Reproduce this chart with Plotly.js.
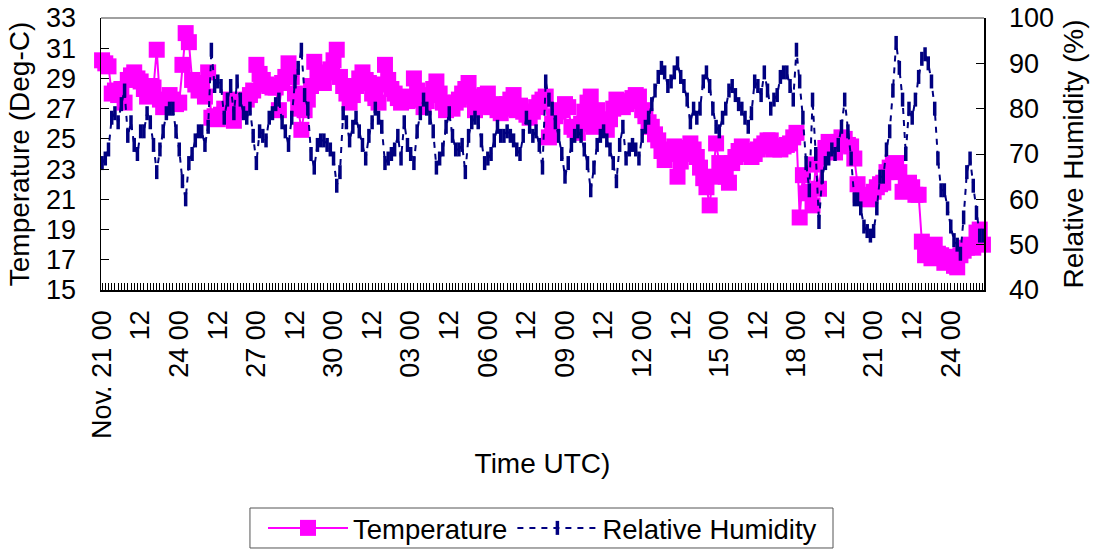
<!DOCTYPE html>
<html><head><meta charset="utf-8">
<script src="https://cdn.plot.ly/plotly-3.0.1.min.js"></script>
<style>html,body{margin:0;padding:0;background:#fff}#chart{width:1097px;height:551px}</style>
</head><body><div id="chart"></div>
<script>
// 3-hourly observations starting Nov. 21 00 UTC
const START_UTC = Date.UTC(2004, 10, 21, 0);
const STEP_HOURS = 3;

const temperature = [
 30.2, 30.0, 29.8, 28.0, 28.2, 27.9, 28.3, 27.4, 28.9, 29.2,
 29.4, 29.0, 28.8, 28.3, 27.8, 28.5, 28.4, 30.9, 27.6, 27.1,
 27.5, 27.9, 27.6, 27.3, 27.4, 29.9, 32.0, 31.4, 28.9, 28.6,
 28.2, 28.7, 27.8, 29.4, 26.4, 26.5, 26.3, 26.6, 27.0, 26.9,
 27.6, 26.2, 27.2, 26.9, 27.3, 27.6, 27.9, 28.2, 29.9, 29.3,
 28.9, 28.6, 28.5, 28.4, 28.4, 26.9, 28.7, 29.1, 30.0, 29.1,
 28.0, 27.0, 25.6, 26.9, 27.6, 28.5, 30.1, 29.1, 28.9, 28.7,
 29.4, 29.6, 30.2, 30.9, 29.1, 28.5, 28.0, 27.4, 27.9, 28.5,
 29.0, 29.4, 28.9, 28.7, 28.0, 27.7, 27.4, 28.6, 29.9, 28.9,
 28.3, 28.0, 27.7, 27.4, 27.8, 27.5, 27.6, 29.0, 28.2, 27.6,
 27.1, 27.5, 27.9, 28.3, 28.8, 28.0, 27.4, 26.9, 27.2, 27.0,
 27.4, 27.6, 28.0, 28.3, 28.7, 27.8, 26.9, 27.2, 27.6, 27.9,
 28.0, 27.1, 27.3, 26.9, 26.7, 27.0, 27.3, 27.6, 27.9, 26.9,
 27.2, 26.8, 26.6, 26.4, 26.8, 27.1, 27.4, 27.6, 27.8, 25.1,
 26.0, 26.5, 26.8, 26.9, 27.3, 27.1, 25.8, 25.6, 25.4, 26.0,
 26.8, 27.4, 27.8, 25.8, 26.9, 26.2, 25.9, 25.6, 26.3, 27.0,
 27.6, 27.3, 27.1, 27.3, 27.5, 27.7, 27.9, 27.8, 26.9, 26.5,
 26.1, 25.8, 25.3, 24.9, 24.2, 23.6, 24.0, 24.3, 24.5, 22.5,
 23.5, 24.0, 24.4, 24.7, 24.3, 23.8, 23.1, 22.4, 21.8, 20.6,
 22.5, 24.7, 23.4, 23.0, 22.5, 22.1, 23.4, 23.8, 24.2, 24.5,
 24.2, 24.0, 23.8, 24.0, 24.3, 24.5, 24.7, 24.9, 24.9, 24.3,
 24.5, 24.3, 24.5, 24.6, 24.7, 25.1, 25.4, 19.8, 22.6, 21.4,
 21.5, 20.6, 23.3, 21.7, 23.8, 24.4, 24.8, 24.5, 24.1, 24.8,
 25.1, 25.0, 24.6, 24.5, 23.7, 22.0, 21.3, 21.2, 21.0, 21.2,
 21.5, 21.8, 22.0, 22.1, 22.8, 23.1, 23.3, 23.4, 22.8, 21.5,
 21.9, 22.1, 21.8, 21.3, 21.3, 18.2, 17.3, 17.6, 17.1, 18.0,
 17.4, 17.3, 16.8, 16.9, 17.2, 16.6, 16.5, 17.3, 17.6, 17.8,
 18.0, 17.8, 18.8, 19.0, 18.0
];

const humidity = [
 68, 69, 71, 78, 79, 77, 81, 84, 74, 77,
 72, 70, 75, 75, 79, 77, 72, 66, 71, 75,
 79, 80, 80, 75, 71, 64, 60, 68, 70, 73,
 75, 75, 72, 76, 93, 85, 86, 85, 78, 82,
 85, 79, 86, 82, 79, 78, 80, 74, 68, 75,
 74, 73, 78, 79, 81, 82, 77, 75, 72, 78,
 86, 89, 93, 83, 80, 70, 67, 72, 73, 73,
 72, 71, 69, 63, 66, 79, 77, 73, 76, 78,
 75, 72, 69, 74, 77, 80, 78, 76, 68, 69,
 70, 71, 74, 69, 77, 72, 70, 68, 75, 79,
 82, 80, 78, 75, 67, 69, 71, 76, 79, 74,
 71, 71, 72, 66, 74, 77, 78, 77, 73, 68,
 69, 70, 73, 76, 74, 74, 75, 74, 73, 71,
 70, 74, 78, 76, 74, 75, 72, 67, 86, 82,
 80, 77, 74, 70, 65, 68, 72, 74, 75, 74,
 71, 68, 62, 67, 72, 74, 75, 73, 71, 68,
 64, 72, 76, 69, 71, 72, 71, 69, 74, 76,
 78, 81, 84, 87, 89, 88, 85, 86, 88, 90,
 87, 85, 82, 77, 80, 78, 80, 86, 88, 85,
 80, 76, 75, 78, 80, 84, 85, 83, 81, 80,
 78, 76, 79, 86, 85, 83, 88, 84, 80, 82,
 83, 87, 88, 88, 85, 82, 93, 86, 78, 68,
 62, 82, 70, 55, 65, 68, 69, 71, 70, 72,
 76, 82, 75, 69, 60, 60, 58, 54, 53, 52,
 53, 58, 65, 65, 71, 75, 84, 94.5, 89, 82,
 70, 80, 78, 82, 87, 91, 92, 90, 86, 80,
 69, 62, 62, 58, 54, 51, 50, 48, 56, 66,
 69, 63, 57, 52, 52
];

// x-axis labels every 36 hours
const tickHours = [0, 36, 72, 108, 144, 180, 216, 252, 288, 324, 360, 396, 432, 468, 504, 540, 576, 612, 648, 684, 720, 756, 792];
const tickLabels = ['Nov. 21 00', '12', '24 00', '12', '27 00', '12', '30 00', '12', '03 00', '12', '06 00', '12',
                    '09 00', '12', '12 00', '12', '15 00', '12', '18 00', '12', '21 00', '12', '24 00'];

function hourToDate(h) {
  const d = new Date(START_UTC + h * 3600000);
  return d.toISOString().slice(0, 19).replace('T', ' ');
}
const times = temperature.map((_, i) => hourToDate(i * STEP_HOURS));

const FONT = 'Liberation Sans, Arial, sans-serif';

const traces = [
  {
    x: times, y: temperature, name: 'Temperature', type: 'scatter', mode: 'lines+markers',
    line: {color: '#FF00FF', width: 2},
    marker: {symbol: 'square', size: 16, color: '#FF00FF'},
    cliponaxis: false, yaxis: 'y'
  },
  {
    x: times, y: humidity, name: 'Relative Humidity', type: 'scatter', mode: 'lines+markers',
    line: {color: '#000080', width: 2, dash: '6px,6px'},
    marker: {symbol: 'line-ns', size: 10, color: '#000080', line: {color: '#000080', width: 3.5}},
    cliponaxis: false, yaxis: 'y2'
  }
];

const layout = {
  width: 1097, height: 551,
  margin: {l: 101, r: 113, t: 18, b: 261, autoexpand: false},
  paper_bgcolor: '#fff', plot_bgcolor: '#fff',
  font: {family: FONT, size: 27, color: '#000'},
  showlegend: true,
  legend: {
    orientation: 'h', x: 0.5, xanchor: 'center', y: -0.875, yanchor: 'middle',
    borderwidth: 0, font: {size: 27.5}, itemwidth: 80, bgcolor: 'rgba(0,0,0,0)'
  },
  xaxis: {
    type: 'date', range: [hourToDate(-1), hourToDate(823)],
    tickmode: 'array', tickvals: tickHours.map(hourToDate), ticktext: tickLabels,
    tickangle: -90, ticks: 'inside', ticklen: 7, tickcolor: '#000', tickwidth: 1,
    showline: true, linecolor: '#000', linewidth: 1.5, showgrid: false, zeroline: false,
    minor: {dtick: 3 * 3600000, tick0: hourToDate(0), ticks: 'inside', ticklen: 7, tickcolor: '#000', tickwidth: 1, showgrid: false},
    ticklabelstandoff: 8,
    title: {text: 'Time UTC)', font: {size: 28}, standoff: 15},
    automargin: false
  },
  yaxis: {
    range: [15, 33], tick0: 15, dtick: 2, ticks: 'inside', ticklen: 8, tickcolor: '#000',
    showline: true, linecolor: '#000', linewidth: 1.5, showgrid: false, zeroline: false,
    ticklabelstandoff: 18,
    title: {text: 'Temperature (Deg-C)', font: {size: 28}, standoff: 8},
    automargin: false
  },
  yaxis2: {
    range: [40, 100], tick0: 40, dtick: 10, overlaying: 'y', side: 'right',
    ticks: 'inside', ticklen: 8, tickcolor: '#000',
    showline: true, linecolor: '#000', linewidth: 1.5, showgrid: false, zeroline: false,
    ticklabelstandoff: 18,
    title: {text: 'Relative Humidity (%)', font: {size: 28}, standoff: 10},
    automargin: false
  },
  shapes: [
    {type: 'line', xref: 'paper', yref: 'paper', x0: 0, x1: 1, y0: 1, y1: 1, line: {color: '#808080', width: 1.5}},
    // legend frame
    {type: 'rect', xref: 'paper', yref: 'paper', x0: 0.1687, x1: 0.829, y0: -0.8015, y1: -0.9485,
     line: {color: '#555', width: 1}, fillcolor: 'rgba(0,0,0,0)'}
  ]
};

Plotly.newPlot('chart', traces, layout, {displayModeBar: false, staticPlot: true});
</script>
</body></html>
